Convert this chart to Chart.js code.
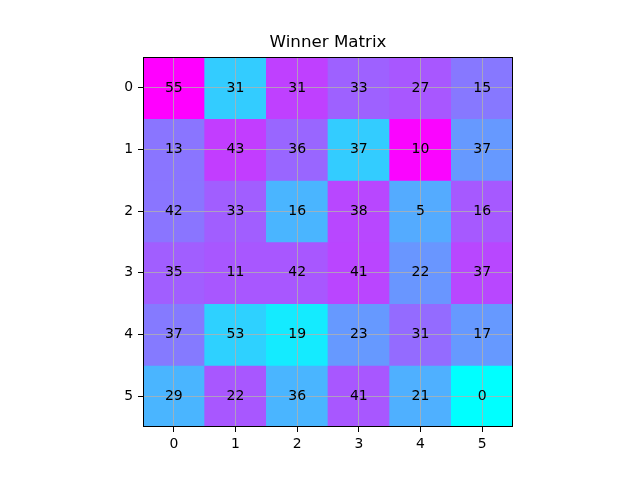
<!DOCTYPE html>
<html>
<head>
<meta charset="utf-8">
<script src="https://cdn.jsdelivr.net/npm/chart.js@4/dist/chart.umd.min.js"></script>
<style>
html,body{margin:0;padding:0;background:#fff;}
#wrap{width:640px;height:480px;}
</style>
</head>
<body>
<div id="wrap"><canvas id="c" width="640" height="480"></canvas></div>
<script>
// Column / row labels
const colLabels = ['0', '1', '2', '3', '4', '5'];
const rowLabels = [0, 1, 2, 3, 4, 5];

// Numbers printed in the cells (row by row)
const winnersRow0 = [55, 31, 31, 33, 27, 15];
const winnersRow1 = [13, 43, 36, 37, 10, 37];
const winnersRow2 = [42, 33, 16, 38, 5, 16];
const winnersRow3 = [35, 11, 42, 41, 22, 37];
const winnersRow4 = [37, 53, 19, 23, 31, 17];
const winnersRow5 = [29, 22, 36, 41, 21, 0];

// Colour level of each cell on the "cool" colormap (0 = cyan, 1 = magenta)
const levelRow0 = [1.00, 0.20, 0.75, 0.62, 0.66, 0.53];
const levelRow1 = [0.54, 0.76, 0.60, 0.20, 0.98, 0.40];
const levelRow2 = [0.54, 0.63, 0.29, 0.72, 0.33, 0.65];
const levelRow3 = [0.63, 0.66, 0.66, 0.73, 0.41, 0.72];
const levelRow4 = [0.52, 0.18, 0.08, 0.40, 0.58, 0.40];
const levelRow5 = [0.29, 0.66, 0.29, 0.66, 0.31, 0.00];

const winners = [winnersRow0, winnersRow1, winnersRow2, winnersRow3, winnersRow4, winnersRow5];
const levels = [levelRow0, levelRow1, levelRow2, levelRow3, levelRow4, levelRow5];

function cool(t) {
  const r = Math.round(255 * t);
  const g = Math.round(255 * (1 - t));
  return `rgb(${r},${g},255)`;
}

const datasets = rowLabels.map((r, i) => ({
  label: 'row ' + r,
  data: colLabels.map(() => [r - 0.5, r + 0.5]),
  backgroundColor: levels[i].map(cool),
  borderWidth: 0,
  borderSkipped: false,
  barPercentage: 1.0,
  categoryPercentage: 1.0,
  grouped: false
}));

const FONT = 'DejaVu Sans';

const cellText = {
  id: 'cellText',
  afterDraw(chart) {
    const ctx = chart.ctx;
    const xs = chart.scales.x, ys = chart.scales.y;
    const a = chart.chartArea;
    ctx.save();
    ctx.font = `14px "${FONT}"`;
    ctx.fillStyle = '#000';
    ctx.textAlign = 'center';
    ctx.textBaseline = 'middle';
    rowLabels.forEach((r, i) => {
      colLabels.forEach((c, j) => {
        ctx.fillText(String(winners[i][j]), xs.getPixelForValue(j), ys.getPixelForValue(r));
      });
    });
    ctx.strokeStyle = '#000';
    ctx.lineWidth = 1;
    ctx.strokeRect(Math.round(a.left) + 0.5, Math.round(a.top) + 0.5, Math.round(a.right - a.left) - 1, Math.round(a.bottom - a.top) - 1);
    ctx.restore();
  }
};

new Chart(document.getElementById('c'), {
  type: 'bar',
  data: { labels: colLabels, datasets },
  options: {
    responsive: false,
    animation: false,
    layout: { padding: { left: 0, right: 127, top: 0, bottom: 0 } },
    plugins: {
      legend: { display: false },
      tooltip: { enabled: false },
      title: {
        display: true,
        fullSize: false,
        text: 'Winner Matrix',
        color: '#000',
        font: { family: FONT, size: 16.7, weight: 'normal', lineHeight: 1.2 },
        padding: { top: 33, bottom: 4 }
      }
    },
    scales: {
      x: {
        type: 'category',
        offset: true,
        grid: { display: true, z: 1, offset: false, color: '#b0b0b0', lineWidth: 0.8, tickColor: '#000', tickLength: 5, tickWidth: 1 },
        border: { display: false },
        ticks: { color: '#000', font: { family: FONT, size: 13.9 }, padding: 4, maxRotation: 0 },
        afterFit(scale) { scale.height = 53; }
      },
      y: {
        type: 'linear',
        min: -0.5,
        max: 5.5,
        reverse: true,
        afterBuildTicks(scale) { scale.ticks = rowLabels.map(v => ({ value: v })); },
        grid: { display: true, z: 1, color: '#b0b0b0', lineWidth: 0.8, tickColor: '#000', tickLength: 5, tickWidth: 1 },
        border: { display: false },
        ticks: { color: '#000', font: { family: FONT, size: 13.9 }, padding: 5, callback: v => String(v) },
        afterFit(scale) { scale.width = 143; }
      }
    }
  },
  plugins: [cellText]
});
</script>
</body>
</html>
